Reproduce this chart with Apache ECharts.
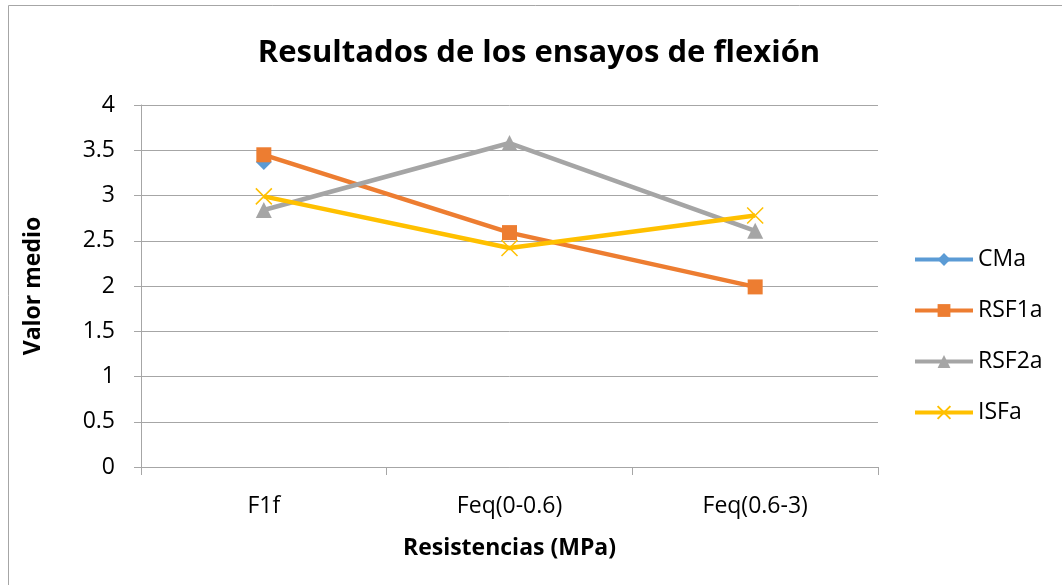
<!DOCTYPE html>
<html>
	<head>
		<meta charset="UTF-8">
		<title></title>
		<style>
			html, body { margin: 0; padding: 0; background: #fff; }
			#dContent { width: 1062px; height: 585px; }
		</style>
	</head>
	<body>
		<div id="dContent"></div>
	</body>
	<script src="https://cdn.jsdelivr.net/npm/echarts@6/dist/echarts.min.js"></script>
	<script>
		var categories = ['F1f', 'Feq(0-0.6)', 'Feq(0.6-3)'];
		var cma = [3.37, null, null];
		var rsf1a = [3.45, 2.59, 1.99];
		var rsf2a = [2.84, 3.58, 2.61];
		var isfa = [2.99, 2.42, 2.78];
		var yTicks = [0, 0.5, 1, 1.5, 2, 2.5, 3, 3.5, 4];

		var font = 'Open Sans, Liberation Sans, sans-serif';

		var oneChart = echarts.init(document.getElementById('dContent'));
		oneChart.setOption({
			animation: false,
			textStyle: { fontFamily: font },
			title: {
				text: 'Resultados de los ensayos de flexión',
				left: 534, top: 33, textAlign: 'center',
				textStyle: { fontSize: 31, fontWeight: 'bold', color: '#000', fontFamily: font }
			},
			graphic: [{
				type: 'rect', shape: { x: 8.5, y: 5.5, width: 1100, height: 700 },
				style: { fill: 'none', stroke: '#a6a6a6', lineWidth: 1 }
			}],
			legend: {
				orient: 'vertical', left: 908, top: 243,
				itemWidth: 58, itemHeight: 16, itemGap: 28,
				lineStyle: { width: 4 },
				textStyle: { fontSize: 23, color: '#000', fontFamily: font },
				data: ['CMa', 'RSF1a', 'RSF2a', 'ISFa']
			},
			grid: { left: 141, right: 184, top: 105, bottom: 118 },
			xAxis: {
				type: 'category', data: categories, boundaryGap: true,
				name: 'Resistencias (MPa)', nameLocation: 'middle', nameGap: 70,
				nameTextStyle: { fontSize: 23, fontWeight: 'bold', color: '#000' },
				axisLine: { lineStyle: { color: '#a6a6a6', width: 1 } },
				axisTick: { show: true, length: 8, alignWithLabel: false, lineStyle: { color: '#a6a6a6' } },
				axisLabel: { fontSize: 23, color: '#000', margin: 28 }
			},
			yAxis: {
				type: 'value', min: yTicks[0], max: yTicks[yTicks.length - 1], interval: 0.5,
				name: 'Valor medio', nameLocation: 'middle', nameGap: 96, nameRotate: 90,
				nameTextStyle: { fontSize: 23, fontWeight: 'bold', color: '#000' },
				axisLine: { show: true, lineStyle: { color: '#a6a6a6', width: 1 } },
				axisTick: { show: true, length: 7, lineStyle: { color: '#a6a6a6' } },
				axisLabel: { fontSize: 23, color: '#000', margin: 26 },
				splitLine: { lineStyle: { color: '#a6a6a6', width: 1 } }
			},
			series: [
				{
					name: 'CMa', type: 'line', data: cma, connectNulls: false,
					symbol: 'diamond', symbolSize: 16,
					lineStyle: { color: '#5b9bd5', width: 4.5 },
					itemStyle: { color: '#5b9bd5' }
				},
				{
					name: 'RSF1a', type: 'line', data: rsf1a,
					symbol: 'rect', symbolSize: 15,
					lineStyle: { color: '#ed7d31', width: 4.5 },
					itemStyle: { color: '#ed7d31' }
				},
				{
					name: 'RSF2a', type: 'line', data: rsf2a,
					symbol: 'triangle', symbolSize: 16,
					lineStyle: { color: '#a5a5a5', width: 4.5 },
					itemStyle: { color: '#a5a5a5' }
				},
				{
					name: 'ISFa', type: 'line', data: isfa,
					symbol: 'path://M0,0 L10,10 M10,0 L0,10', symbolSize: 16,
					lineStyle: { color: '#ffc000', width: 4.5 },
					itemStyle: { color: 'none', borderColor: '#ffc000', borderWidth: 1.5 }
				}
			]
		});
	</script>
</html>
